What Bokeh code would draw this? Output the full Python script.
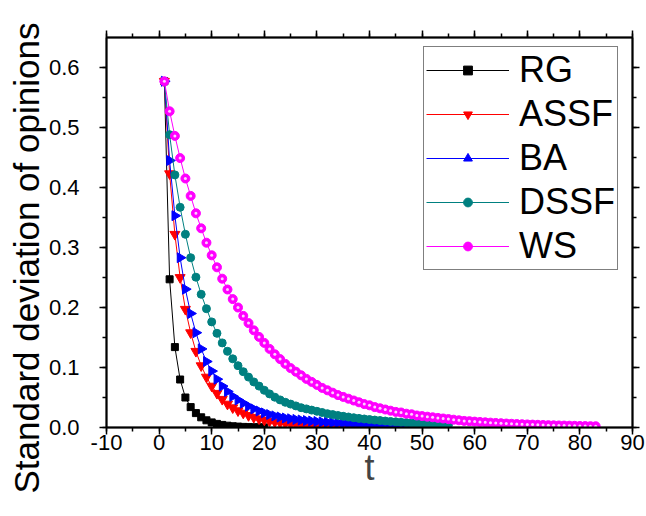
import numpy as np
from bokeh.plotting import figure
from bokeh.models import (Range1d, LinearAxis, SingleIntervalTicker, PrintfTickFormatter,
                          CustomJSTickFormatter, Legend, LegendItem, Title)
from bokeh.embed import file_html
from bokeh.resources import INLINE

# ---- data ----
rg = [0.577, 0.247, 0.134, 0.080, 0.050, 0.034, 0.024, 0.017, 0.012, 0.0085,
      0.006, 0.0043, 0.003, 0.0021, 0.0015, 0.001, 0.0007, 0.0005, 0.0003, 0.0002]
assf = [0.577, 0.423, 0.322, 0.250, 0.197, 0.158, 0.127, 0.103, 0.084, 0.069,
        0.057, 0.047, 0.039, 0.033, 0.028, 0.024, 0.020, 0.017, 0.0145, 0.0125,
        0.0108, 0.0093, 0.008, 0.0069, 0.006, 0.0052, 0.0045, 0.0039, 0.0034, 0.0029,
        0.0025, 0.0022, 0.0019, 0.0016, 0.0014, 0.0012, 0.001, 0.0009, 0.0008, 0.0007,
        0.0006, 0.0005, 0.0004, 0.0003, 0.0002]
ba = [0.577, 0.445, 0.353, 0.283, 0.2305, 0.190, 0.158, 0.131, 0.110, 0.094,
      0.0805, 0.069, 0.060, 0.052, 0.046, 0.0405, 0.0355, 0.031, 0.0275, 0.0243,
      0.0216, 0.0193, 0.0174, 0.0158, 0.0145, 0.0134, 0.0124, 0.0115, 0.0107, 0.0100,
      0.0093, 0.0087, 0.0081, 0.0076, 0.0071, 0.0066, 0.0062, 0.0058, 0.0054, 0.0050,
      0.0047, 0.0044, 0.0041, 0.0038, 0.0035, 0.0032, 0.0029, 0.0026, 0.0023, 0.0020,
      0.0017, 0.0014]
dssf = [0.577, 0.488, 0.421, 0.367, 0.322, 0.283, 0.2505, 0.222, 0.198, 0.176,
        0.157, 0.141, 0.127, 0.1145, 0.103, 0.093, 0.084, 0.076, 0.069, 0.062,
        0.056, 0.0505, 0.046, 0.042, 0.039, 0.036, 0.033, 0.031, 0.029, 0.027,
        0.025, 0.023, 0.0215, 0.020, 0.0187, 0.0175, 0.0163, 0.0152, 0.0142, 0.0133,
        0.0124, 0.0116, 0.0108, 0.0101, 0.0094, 0.0087, 0.0081, 0.0075, 0.0069, 0.0064,
        0.0059, 0.0054, 0.0050, 0.0046, 0.0042]
ws = [0.577, 0.527, 0.486, 0.449, 0.415, 0.386, 0.357, 0.332, 0.308, 0.287,
      0.267, 0.248, 0.230, 0.214, 0.200, 0.186, 0.174, 0.162, 0.151, 0.141,
      0.131, 0.122, 0.114, 0.106, 0.099, 0.093, 0.087, 0.081, 0.076, 0.071,
      0.066, 0.062, 0.058, 0.054, 0.051, 0.048, 0.045, 0.042, 0.039, 0.037,
      0.034, 0.032, 0.030, 0.028, 0.026, 0.025, 0.023, 0.022, 0.020, 0.019,
      0.018, 0.017, 0.016, 0.015, 0.014, 0.013, 0.012, 0.011, 0.0105, 0.0098,
      0.0092, 0.0086, 0.0081, 0.0076, 0.0071, 0.0066, 0.0062, 0.0058, 0.0054, 0.0051,
      0.0048, 0.0045, 0.0042, 0.0039, 0.0036, 0.0034, 0.0032, 0.0030, 0.0028, 0.0026,
      0.0024, 0.0022, 0.0021]

series_names = ["RG", "ASSF", "BA", "DSSF", "WS"]
series_values = [rg, assf, ba, dssf, ws]
colors = ["#000000", "#FF0000", "#0000FF", "#008080", "#FF00FF"]

FONT = "Liberation Sans"

p = figure(width=646, height=516, output_backend="svg", toolbar_location=None,
           x_range=Range1d(-10, 90), y_range=Range1d(0, 0.65),
           min_border_left=106, min_border_right=14, min_border_top=37, min_border_bottom=89,
           x_axis_label="t")
p.grid.visible = False
p.outline_line_color = "black"
p.outline_line_width = 1.5

xt = SingleIntervalTicker(interval=10, num_minor_ticks=2)
yt = SingleIntervalTicker(interval=0.1, num_minor_ticks=2)

def style_axis(ax, labels=True):
    ax.axis_line_width = 2
    ax.axis_line_color = "black"
    ax.major_tick_line_width = 1.5
    ax.minor_tick_line_width = 1.5
    ax.major_tick_in = 0
    ax.major_tick_out = 7
    ax.minor_tick_in = 0
    ax.minor_tick_out = 4
    ax.major_label_text_font = FONT
    ax.major_label_text_font_size = "22px"
    ax.major_label_text_color = "black"
    if not labels:
        ax.formatter = CustomJSTickFormatter(code="return ''")
        ax.major_label_standoff = 0

xa = p.xaxis[0]
xa.ticker = xt
xa.formatter = CustomJSTickFormatter(code="return tick.toFixed(0)")
style_axis(xa)
xa.major_label_standoff = 0
xa.axis_label_text_font = FONT
xa.axis_label_text_font_size = "36px"
xa.axis_label_text_font_style = "normal"
xa.axis_label_standoff = -6

ya = p.yaxis[0]
ya.ticker = yt
ya.formatter = PrintfTickFormatter(format="%.1f")
style_axis(ya)
ya.major_label_standoff = 20

top = LinearAxis(ticker=SingleIntervalTicker(interval=10, num_minor_ticks=2))
style_axis(top, labels=False)
p.add_layout(top, "above")
right = LinearAxis(ticker=SingleIntervalTicker(interval=0.1, num_minor_ticks=2))
style_axis(right, labels=False)
p.add_layout(right, "right")

# y-axis title (longer than the frame, so placed as a side title)
ytitle = Title(text="Standard deviation of opinions", align="left", offset=-66,
               text_font=FONT, text_font_size="35px", text_font_style="normal",
               text_color="black", standoff=0)
p.add_layout(ytitle, "left")

items = []
for name, vals, col in zip(series_names, series_values, colors):
    t = list(range(1, len(vals) + 1))
    lr = p.line(t, vals, line_color=col, line_width=1)
    rs = [lr]
    if name == "RG":
        rs.append(p.scatter(t, vals, marker="square", size=7, color=col))
    elif name == "ASSF":
        rs.append(p.scatter(t, vals, marker="inverted_triangle", size=10, color=col))
    elif name == "BA":
        rs.append(p.scatter(t, vals, marker="triangle", size=10, angle=-np.pi / 2, color=col))
    elif name == "DSSF":
        rs.append(p.scatter(t, vals, marker="circle", size=8, color=col))
    else:
        rs.append(p.scatter(t, vals, marker="circle", size=9, color=col))
        p.scatter(t, vals, marker="circle", size=3, color="#FFD0FF", line_color=None)
    items.append(LegendItem(label=name, renderers=rs))

legend = Legend(items=items, location=(317, 157),
                label_text_font=FONT, label_text_font_size="36px",
                label_text_color="black",
                glyph_width=83, glyph_height=22, label_height=41,
                label_standoff=10, spacing=2, padding=2, margin=0,
                border_line_color="black", border_line_width=1.5,
                background_fill_color="white", background_fill_alpha=1)
p.add_layout(legend)

open("out.html", "w").write(file_html(p, INLINE))
